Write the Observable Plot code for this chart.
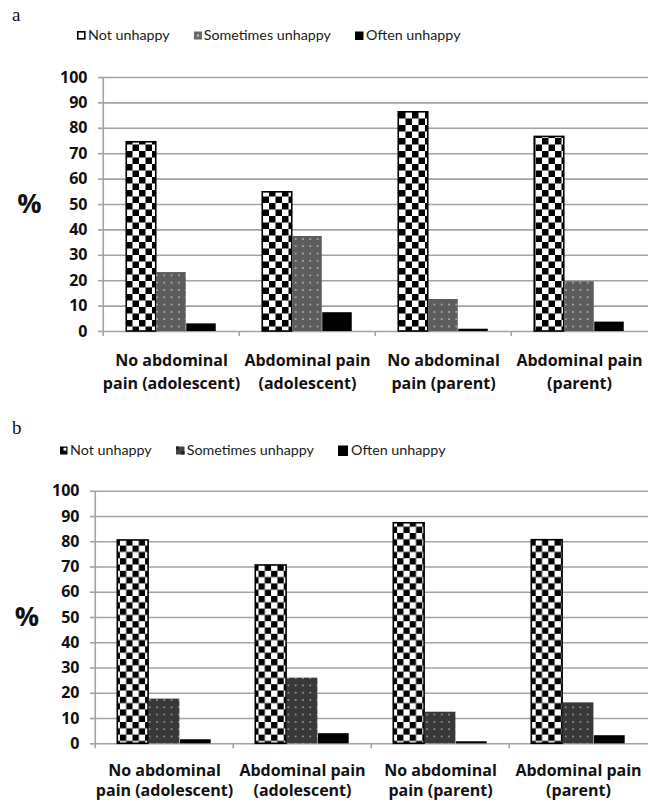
<!DOCTYPE html>
<html><head><meta charset="utf-8">
<script src="https://cdn.jsdelivr.net/npm/d3@7"></script>
<script src="https://cdn.jsdelivr.net/npm/@observablehq/plot@0.6"></script>
<style>
body{margin:0;background:#fff;}
#root{width:648px;height:803px;position:relative;overflow:hidden;background:#fff;}
.hdr{position:relative;width:648px;}
.letter{position:absolute;left:12px;font-family:"Liberation Serif","DejaVu Serif",serif;font-size:19px;line-height:19px;color:#111;}
.legend{position:absolute;display:flex;align-items:center;gap:24px;font-family:Lato,sans-serif;font-size:14.3px;line-height:18px;color:#1a1a1a;white-space:nowrap;}
.item{display:flex;align-items:center;}
.item svg{margin-right:2px;display:block;}
svg.chart{display:block;}
</style></head><body><div id="root"></div>
<script>
// ---- data ----
const categories = ["No abdominal\npain (adolescent)", "Abdominal pain\n(adolescent)", "No abdominal\npain (parent)", "Abdominal pain\n(parent)"];
const series = ["Not unhappy", "Sometimes unhappy", "Often unhappy"];
const yTicks = [0, 10, 20, 30, 40, 50, 60, 70, 80, 90, 100];
// panel a
const aNotUnhappy = [74.5, 54.8, 86.3, 76.6];
const aSometimes = [23.2, 37.4, 12.6, 19.6];
const aOften = [3.0, 7.4, 0.9, 3.7];
// panel b
const bNotUnhappy = [80.5, 70.6, 87.3, 80.6];
const bSometimes = [17.7, 26.0, 12.5, 16.2];
const bOften = [1.6, 4.0, 0.8, 3.2];

const gridColor = "#a3a3a3";
const root = document.getElementById("root");

function header(letter, h, letterTop, legendLeft, legendTop, swatches) {
  const div = document.createElement("div");
  div.className = "hdr";
  div.style.height = h + "px";
  const l = document.createElement("div");
  l.className = "letter"; l.style.top = letterTop + "px"; l.textContent = letter;
  div.appendChild(l);
  const lg = document.createElement("div");
  lg.className = "legend"; lg.style.left = legendLeft + "px"; lg.style.top = legendTop + "px";
  series.forEach((s, i) => {
    const it = document.createElement("div");
    it.className = "item";
    it.innerHTML = swatches[i] + `<span>${s}</span>`;
    lg.appendChild(it);
  });
  div.appendChild(lg);
  root.appendChild(div);
}

function chart(cfg) {
  const {id, not, some, often, height, marginTop, marginBottom, marginLeft, barW, checkSize,
         dotsBg, dotFill, labelPad, lineHeight, pctDx} = cfg;
  const width = 648, marginRight = 0;
  const bw = (width - marginLeft - marginRight) / categories.length;
  const inset = (bw - barW) / 2;
  const table = (vals) => categories.map((c, i) => ({category: c, value: vals[i]}));
  const svg = Plot.plot({
    width, height, marginTop, marginBottom, marginLeft, marginRight,
    style: {fontFamily: "'Open Sans', sans-serif", background: "white", overflow: "visible", color: "#111"},
    x: {domain: categories, padding: 0, axis: null, label: null},
    y: {domain: [0, 100], axis: null, label: null},
    marks: [
      Plot.gridY(yTicks, {stroke: gridColor, strokeOpacity: 1, strokeWidth: 1.6}),
      Plot.axisY(yTicks, {tickSize: 4, tickPadding: 11, stroke: gridColor, strokeOpacity: 1, strokeWidth: 1.6,
        fill: "#111", fontWeight: "bold", fontSize: 16, tickFormat: d => d, label: null}),
      Plot.ruleX([categories[0]], {dx: -bw / 2, y1: 0, y2: 100, stroke: gridColor, strokeWidth: 1.6}),
      Plot.ruleX(categories, {dx: -bw / 2, y1: 0, y2: 0, insetTop: 5, stroke: gridColor, strokeWidth: 1.6}),
      Plot.axisX({tickSize: 0, tickPadding: labelPad, fontWeight: "bold", fontSize: 16, fill: "#111",
        lineHeight, label: null}),
      Plot.barY(table(not), {x: "category", y: "value", dx: -barW, insetLeft: inset, insetRight: inset,
        fill: `url(#chk-${id})`, stroke: "black", strokeWidth: 1.6}),
      Plot.barY(table(some), {x: "category", y: "value", insetLeft: inset, insetRight: inset,
        fill: `url(#dot-${id})`}),
      Plot.barY(table(often), {x: "category", y: "value", dx: barW, insetLeft: inset, insetRight: inset,
        fill: "black"}),
      Plot.text(["%"], {frameAnchor: "left", dx: pctDx, fontSize: 27, fontWeight: "bold", textAnchor: "middle", fill: "#111"})
    ]
  });
  svg.classList.add("chart");
  const defs = d3.select(svg).insert("defs", ":first-child");
  const s = checkSize;
  const p = defs.append("pattern").attr("id", `chk-${id}`).attr("patternUnits", "userSpaceOnUse")
    .attr("width", 2 * s).attr("height", 2 * s);
  p.append("rect").attr("width", 2 * s).attr("height", 2 * s).attr("fill", "white");
  p.append("rect").attr("width", s).attr("height", s).attr("fill", "black");
  p.append("rect").attr("x", s).attr("y", s).attr("width", s).attr("height", s).attr("fill", "black");
  const q = defs.append("pattern").attr("id", `dot-${id}`).attr("patternUnits", "userSpaceOnUse")
    .attr("width", 7.3).attr("height", 7.3);
  q.append("rect").attr("width", 7.3).attr("height", 7.3).attr("fill", dotsBg);
  q.append("rect").attr("x", 3).attr("y", 3).attr("width", 1.4).attr("height", 1.4).attr("fill", dotFill);
  root.appendChild(svg);
}

const swA = [
  `<svg width="9" height="9"><rect x="0.8" y="0.8" width="7" height="7" fill="white" stroke="black" stroke-width="1.6"/></svg>`,
  `<svg width="8" height="9"><rect x="0" y="0.5" width="8" height="8" fill="#6a6a6a"/><rect x="3" y="3.5" width="2" height="2" fill="#cfcfcf"/></svg>`,
  `<svg width="9" height="9"><rect x="0" y="0.5" width="8.5" height="8.5" fill="black"/></svg>`
];
const swB = [
  `<svg width="8" height="9"><rect x="0" y="0.5" width="7.5" height="8" fill="black"/><rect x="3.5" y="1.8" width="2.8" height="2.8" fill="white"/></svg>`,
  `<svg width="9" height="9"><rect x="0" y="0.5" width="8.5" height="8" fill="#444"/><rect x="0" y="0.5" width="3" height="3" fill="#222"/><rect x="5" y="5" width="3.5" height="3.5" fill="#222"/></svg>`,
  `<svg width="11" height="11"><rect x="0" y="0.5" width="10" height="10.5" fill="black"/></svg>`
];

header("a", 60, 5, 77, 26, swA);
chart({id: "a", not: aNotUnhappy, some: aSometimes, often: aOften, height: 340, marginTop: 17, marginBottom: 69,
  marginLeft: 102, barW: 30, checkSize: 6.5, dotsBg: "#5c5c5c", dotFill: "#d8d8d8", labelPad: 19, lineHeight: 1.4, pctDx: -73});
header("b", 70, 18, 60, 41, swB);
chart({id: "b", not: bNotUnhappy, some: bSometimes, often: bOften, height: 333, marginTop: 20.7, marginBottom: 59.7,
  marginLeft: 94, barW: 31.3, checkSize: 6.3, dotsBg: "#383838", dotFill: "#bdbdbd", labelPad: 17, lineHeight: 1.3, pctDx: -67.5});
</script>
</body></html>
